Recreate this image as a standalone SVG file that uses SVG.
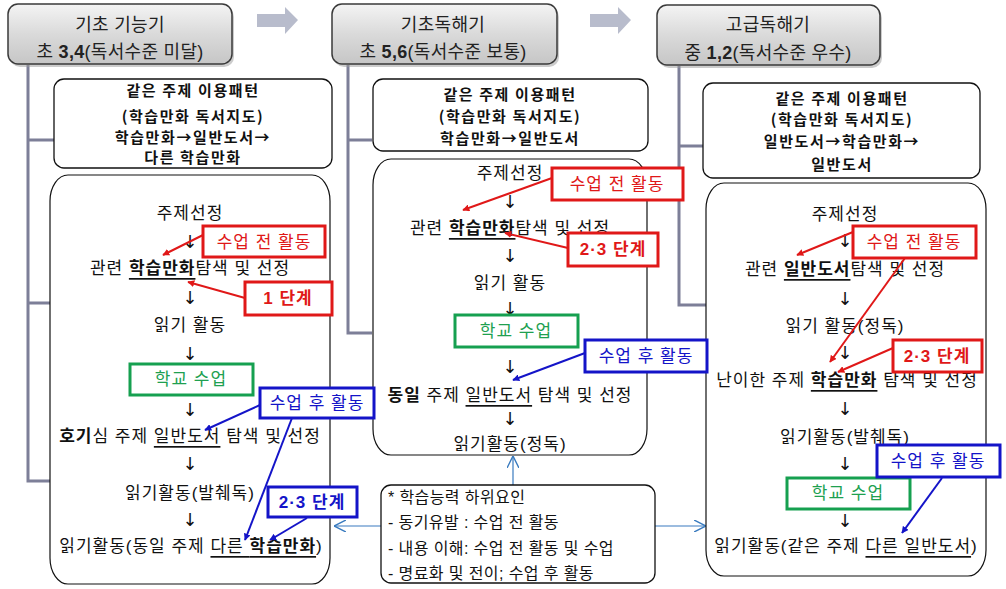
<svg xmlns="http://www.w3.org/2000/svg" width="1006" height="589" viewBox="0 0 1006 589">
<style>
text{font-family:"Liberation Sans","Noto Sans CJK KR",sans-serif;fill:#111;dominant-baseline:central;text-anchor:middle}
.hd{font-size:18px;fill:#222;letter-spacing:0.3px}
.info{font-family:"Noto Sans CJK KR",sans-serif;font-size:15px;font-weight:bold;letter-spacing:1.6px}
.t{font-size:17px;letter-spacing:1px}
.arr{font-size:18px;font-family:"DejaVu Sans",sans-serif}
.lg{font-size:16px;letter-spacing:0.4px;text-anchor:start}
.b{font-weight:bold}
.u{text-decoration:underline}
.hbox{fill:url(#hg);stroke:#3a3a3a;stroke-width:1.5}
.ibox{fill:#fff;stroke:#111;stroke-width:1.3}
.dbox{fill:#fff;stroke:#111;stroke-width:1.2}
.trunk{fill:none;stroke:#7d7f98;stroke-width:3}
.red{fill:#fff;stroke:#e01818;stroke-width:3}
.blue{fill:#fff;stroke:#1414c8;stroke-width:3}
.green{fill:#fff;stroke:#16a050;stroke-width:3}
.rt{font-size:17px;fill:#e01818;letter-spacing:1px}
.bt{font-size:17px;fill:#1414c8;letter-spacing:1px}
.gt{font-size:17px;fill:#20a050;letter-spacing:1px}
.rl{stroke:#e01818;stroke-width:2;fill:none;marker-end:url(#mr)}
.bl{stroke:#1414c8;stroke-width:2;fill:none;marker-end:url(#mb)}
.sl{stroke:#3a7bbf;stroke-width:1.2;fill:none;marker-end:url(#ms)}
.garr{fill:#b8bccc}
</style>
<defs>
<linearGradient id="hg" x1="0" y1="0" x2="0" y2="1">
<stop offset="0" stop-color="#f4f4f4"/>
<stop offset="0.5" stop-color="#dadada"/>
<stop offset="1" stop-color="#c6c6c6"/>
</linearGradient>
<marker id="mr" viewBox="0 0 10 10" refX="9" refY="5" markerWidth="7" markerHeight="7" markerUnits="userSpaceOnUse" orient="auto"><path d="M0,0 L10,5 L0,10 z" fill="#e01818"/></marker>
<marker id="mb" viewBox="0 0 10 10" refX="9" refY="5" markerWidth="7" markerHeight="7" markerUnits="userSpaceOnUse" orient="auto"><path d="M0,0 L10,5 L0,10 z" fill="#1414c8"/></marker>
<marker id="ms" viewBox="0 0 10 10" refX="10" refY="5" markerWidth="12" markerHeight="12" markerUnits="userSpaceOnUse" orient="auto"><path d="M0,0 L10,5 L0,10" fill="none" stroke="#3a7bbf" stroke-width="1.2"/></marker>
</defs>
<rect width="1006" height="589" fill="#fff"/>

<g id="connectors">
<path class="trunk" d="M28,65 V481 H50 M28,140 H55 M28,303 H50"/>
<path class="trunk" d="M348,65 V333 H372 M348,140 H372"/>
<path class="trunk" d="M679,66 V305 H706 M679,146 H703"/>
<path class="garr" d="M257,14 H285 V7 L298,20 L285,34 V27 H257 z"/>
<path class="garr" d="M590,14 H618 V7 L631,20 L618,34 V27 H590 z"/>
<line class="sl" x1="513" y1="485" x2="513" y2="456"/>
<line class="sl" x1="381" y1="526" x2="334" y2="526"/>
<line class="sl" x1="655" y1="526" x2="706" y2="526"/>
</g>

<g id="header1">
<rect x="10" y="7" width="224" height="60" rx="10" fill="#9a9a9a" opacity="0.5"/>
<rect class="hbox" x="8" y="4" width="224" height="60" rx="10"/>
<text class="hd" x="120" y="25">기초 기능기</text>
<text class="hd" x="120" y="52">초 <tspan class="b">3,4</tspan>(독서수준 미달)</text>
</g>
<g id="header2">
<rect x="334" y="7" width="225" height="60" rx="10" fill="#9a9a9a" opacity="0.5"/>
<rect class="hbox" x="332" y="4" width="225" height="60" rx="10"/>
<text class="hd" x="443" y="25">기초독해기</text>
<text class="hd" x="443" y="52">초 <tspan class="b">5,6</tspan>(독서수준 보통)</text>
</g>
<g id="header3">
<rect x="659" y="8" width="223" height="60" rx="10" fill="#9a9a9a" opacity="0.5"/>
<rect class="hbox" x="657" y="5" width="223" height="60" rx="10"/>
<text class="hd" x="768" y="25">고급독해기</text>
<text class="hd" x="768" y="53">중 <tspan class="b">1,2</tspan>(독서수준 우수)</text>
</g>

<g id="info1">
<rect class="ibox" x="54" y="79" width="278" height="89" rx="10"/>
<text class="info" x="193" y="89">같은 주제 이용패턴</text>
<text class="info" x="193" y="115">(학습만화 독서지도)</text>
<text class="info" x="193" y="136">학습만화→일반도서→</text>
<text class="info" x="193" y="156">다른 학습만화</text>
</g>
<g id="info2">
<rect class="ibox" x="373" y="79" width="275" height="72" rx="10"/>
<text class="info" x="510" y="93">같은 주제 이용패턴</text>
<text class="info" x="510" y="115">(학습만화 독서지도)</text>
<text class="info" x="510" y="137">학습만화→일반도서</text>
</g>
<g id="info3">
<rect class="ibox" x="703" y="83" width="277" height="95" rx="10"/>
<text class="info" x="842" y="97">같은 주제 이용패턴</text>
<text class="info" x="842" y="118">(학습만화 독서지도)</text>
<text class="info" x="842" y="140">일반도서→학습만화→</text>
<text class="info" x="842" y="163">일반도서</text>
</g>

<g id="detail1">
<rect class="dbox" x="50" y="175" width="280" height="409" rx="18" ry="26"/>
<text class="t" x="190" y="213">주제선정</text>
<text class="arr" x="190" y="241">↓</text>
<text class="t" x="190" y="268">관련 <tspan class="b u">학습만화</tspan>탐색 및 선정</text>
<text class="arr" x="190" y="297">↓</text>
<text class="t" x="190" y="325">읽기 활동</text>
<text class="arr" x="190" y="353">↓</text>
<text class="arr" x="190" y="409">↓</text>
<text class="t" x="190" y="436"><tspan class="b">호기</tspan>심 주제 <tspan class="u">일반도서</tspan> 탐색 및 선정</text>
<text class="arr" x="190" y="463">↓</text>
<text class="t" x="190" y="493">읽기활동(발췌독)</text>
<text class="arr" x="190" y="519">↓</text>
<text class="t" x="191" y="546">읽기활동(동일 주제 <tspan class="u">다른 <tspan class="b">학습만화</tspan></tspan>)</text>
</g>
<g id="green1">
<rect class="green" x="130" y="364" width="123" height="31"/>
<text class="gt" x="191" y="379">학교 수업</text>
</g>

<g id="detail2">
<rect class="dbox" x="373" y="159" width="274" height="296" rx="18" ry="26"/>
<text class="t" x="510" y="173">주제선정</text>
<text class="arr" x="510" y="201">↓</text>
<text class="t" x="510" y="228">관련 <tspan class="b u">학습만화</tspan>탐색 및 선정</text>
<text class="arr" x="510" y="255">↓</text>
<text class="t" x="510" y="283">읽기 활동</text>
<text class="arr" x="510" y="308">↓</text>
<text class="arr" x="510" y="366">↓</text>
<text class="t" x="510" y="395"><tspan class="b">동일</tspan> 주제 <tspan class="u">일반도서</tspan> 탐색 및 선정</text>
<text class="arr" x="510" y="418">↓</text>
<text class="t" x="510" y="444">읽기활동(정독)</text>
</g>
<g id="green2">
<rect class="green" x="455" y="315" width="123" height="32"/>
<text class="gt" x="516" y="331">학교 수업</text>
</g>

<g id="detail3">
<rect class="dbox" x="706" y="183" width="280" height="393" rx="18" ry="26"/>
<text class="t" x="845" y="214">주제선정</text>
<text class="arr" x="845" y="240">↓</text>
<text class="t" x="845" y="269">관련 <tspan class="b u">일반도서</tspan>탐색 및 선정</text>
<text class="arr" x="845" y="298">↓</text>
<text class="t" x="845" y="326">읽기 활동(정독)</text>
<text class="arr" x="845" y="352">↓</text>
<text class="t" x="847" y="380">난이한 주제 <tspan class="b u">학습만화</tspan> 탐색 및 선정</text>
<text class="arr" x="845" y="408">↓</text>
<text class="t" x="845" y="437">읽기활동(발췌독)</text>
<text class="arr" x="845" y="463">↓</text>
<text class="arr" x="845" y="520">↓</text>
<text class="t" x="846" y="546">읽기활동(같은 주제 <tspan class="u">다른 일반도서</tspan>)</text>
</g>
<g id="green3">
<rect class="green" x="787" y="478" width="123" height="31"/>
<text class="gt" x="848" y="493">학교 수업</text>
</g>

<g id="legend">
<rect class="ibox" x="381" y="485" width="274" height="98" rx="10"/>
<text class="lg" x="388" y="497">* 학습능력 하위요인</text>
<text class="lg" x="388" y="522">- 동기유발 : 수업 전 활동</text>
<text class="lg" x="388" y="548">- 내용 이해: 수업 전 활동 및 수업</text>
<text class="lg" x="388" y="573">- 명료화 및 전이; 수업 후 활동</text>
</g>

<g id="callouts-lines">
<line class="rl" x1="203" y1="235" x2="163" y2="255"/>
<line class="rl" x1="245" y1="298" x2="188" y2="282"/>
<line class="bl" x1="260" y1="405" x2="205" y2="430"/>
<line class="bl" x1="292" y1="418" x2="245" y2="540"/>
<line class="bl" x1="307" y1="518" x2="270" y2="540"/>
<line class="rl" x1="552" y1="178" x2="463" y2="210"/>
<line class="rl" x1="568" y1="248" x2="505" y2="233"/>
<line class="bl" x1="585" y1="353" x2="513" y2="380"/>
<line class="rl" x1="853" y1="232" x2="797" y2="255"/>
<line class="rl" x1="905" y1="258" x2="830" y2="362"/>
<line class="rl" x1="893" y1="348" x2="838" y2="372"/>
<line class="bl" x1="942" y1="478" x2="902" y2="533"/>
</g>

<g id="c1-pre">
<rect class="red" x="203" y="226" width="122" height="31"/>
<text class="rt" x="264" y="242">수업 전 활동</text>
</g>
<g id="c1-step">
<rect class="red" x="245" y="282" width="87" height="33"/>
<text class="rt b" x="288" y="298">1 단계</text>
</g>
<g id="c1-post">
<rect class="blue" x="260" y="388" width="114" height="30"/>
<text class="bt" x="317" y="403">수업 후 활동</text>
</g>
<g id="c1-step2">
<rect class="blue" x="268" y="487" width="89" height="30"/>
<text class="bt b" x="312" y="502">2·3 단계</text>
</g>
<g id="c2-pre">
<rect class="red" x="552" y="168" width="131" height="32"/>
<text class="rt" x="617" y="184">수업 전 활동</text>
</g>
<g id="c2-step">
<rect class="red" x="568" y="233" width="90" height="33"/>
<text class="rt b" x="613" y="249">2·3 단계</text>
</g>
<g id="c2-post">
<rect class="blue" x="585" y="340" width="122" height="32"/>
<text class="bt" x="646" y="356">수업 후 활동</text>
</g>
<g id="c3-pre">
<rect class="red" x="853" y="226" width="123" height="32"/>
<text class="rt" x="914" y="242">수업 전 활동</text>
</g>
<g id="c3-step">
<rect class="red" x="893" y="340" width="89" height="32"/>
<text class="rt b" x="937" y="356">2·3 단계</text>
</g>
<g id="c3-post">
<rect class="blue" x="877" y="445" width="123" height="32"/>
<text class="bt" x="938" y="461">수업 후 활동</text>
</g>
</svg>
